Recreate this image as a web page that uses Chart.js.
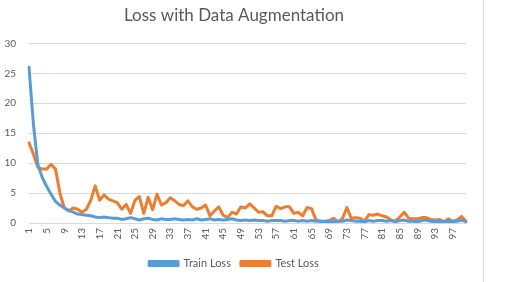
<!DOCTYPE html>
<html>
<head>
<meta charset="utf-8">
<script src="https://cdn.jsdelivr.net/npm/chart.js@4"></script>
<style>
  html, body { margin:0; padding:0; background:#fff; }
  #wrap { position:relative; width:483px; height:282px; border-right:1px solid #d9d9d9; }
</style>
</head>
<body>
<div id="wrap"><canvas id="c"></canvas></div>
<script>
const epochs = Array.from({length:100}, (_, i) => String(i + 1));
const trainLoss = [
  26.0,16.5,9.8,7.6,6.1,4.8,3.6,3.0,2.5,2.1,
  1.8,1.5,1.4,1.3,1.2,1.0,0.9,1.0,0.9,0.8,
  0.8,0.6,0.7,0.9,0.7,0.5,0.7,0.8,0.6,0.5,
  0.7,0.6,0.6,0.7,0.6,0.5,0.6,0.5,0.7,0.5,
  0.6,0.7,0.5,0.6,0.5,0.6,0.7,0.5,0.4,0.5,
  0.4,0.5,0.4,0.4,0.3,0.4,0.4,0.4,0.3,0.4,
  0.4,0.3,0.4,0.3,0.4,0.3,0.3,0.2,0.3,0.2,
  0.3,0.3,0.5,0.4,0.3,0.3,0.2,0.4,0.3,0.4,
  0.4,0.3,0.4,0.2,0.4,0.5,0.3,0.3,0.2,0.4,
  0.5,0.3,0.2,0.3,0.2,0.3,0.2,0.3,0.5,0.2
];
const testLoss = [
  13.4,11.5,9.3,9.0,9.0,9.8,9.0,5.0,2.5,2.0,
  2.5,2.3,1.8,2.3,3.8,6.2,3.8,4.7,4.0,3.7,
  3.4,2.3,3.1,1.6,3.8,4.4,1.6,4.3,2.2,4.8,
  3.0,3.4,4.2,3.7,3.1,2.9,3.7,2.7,2.3,2.5,
  3.0,1.2,2.0,2.7,1.3,0.9,1.8,1.5,2.7,2.5,
  3.2,2.5,1.8,1.9,1.2,1.2,2.8,2.4,2.7,2.7,
  1.6,1.8,1.2,2.6,2.4,0.5,0.3,0.3,0.4,0.8,
  0.2,0.7,2.6,0.8,0.9,0.8,0.3,1.4,1.3,1.5,
  1.2,1.0,0.5,0.3,1.0,1.8,0.8,0.7,0.7,0.9,
  0.9,0.6,0.5,0.6,0.2,0.7,0.3,0.5,1.1,0.3
];
const yTicks = [0, 5, 10, 15, 20, 25, 30];

const txt = '#595959';
const grid = '#d9d9d9';

new Chart(document.getElementById('c'), {
  type: 'line',
  data: {
    labels: epochs,
    datasets: [
      { label:'Train Loss', data:trainLoss, borderColor:'#5b9bd5', backgroundColor:'#5b9bd5',
        borderWidth:3, pointRadius:0, borderCapStyle:'round', borderJoinStyle:'round' },
      { label:'Test Loss', data:testLoss, borderColor:'#ed7d31', backgroundColor:'#ed7d31',
        borderWidth:3, pointRadius:0, borderCapStyle:'round', borderJoinStyle:'round' }
    ]
  },
  options: {
    responsive:true, maintainAspectRatio:false, animation:false,
    layout:{ padding:{ left:0, right:15, top:0, bottom:3 } },
    plugins:{
      title:{ display:true, text:'Loss with Data Augmentation', color:txt,
        font:{ family:'Lato', size:17, weight:'normal' }, padding:{ top:5, bottom:18 } },
      legend:{ position:'bottom',
        labels:{ color:txt, font:{ family:'Lato', size:11 }, boxWidth:29, boxHeight:4, padding:10 } },
      tooltip:{ enabled:false }
    },
    scales:{
      x:{
        grid:{ display:false, drawTicks:false },
        border:{ display:true, color:grid },
        ticks:{ color:txt, font:{ family:'Lato', size:10 }, autoSkip:false, minRotation:90, maxRotation:90, padding:5,
          callback:(v, i) => (i % 4 === 0 ? epochs[i] : '') },
        afterFit:(s) => { s.height = 25; }
      },
      y:{
        min:0, max:30,
        afterBuildTicks:(s) => { s.ticks = yTicks.map(v => ({ value:v })); },
        grid:{ color:grid, drawTicks:false },
        border:{ display:false },
        ticks:{ color:txt, font:{ family:'Lato', size:10 }, padding:13 },
        afterFit:(s) => { s.width = 29; }
      }
    }
  }
});
</script>
</body>
</html>
